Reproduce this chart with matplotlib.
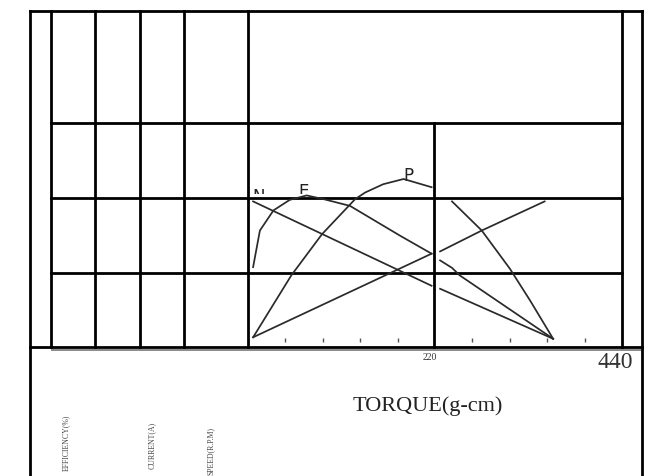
import matplotlib
matplotlib.use("Agg")
import matplotlib.pyplot as plt
from matplotlib.patches import Rectangle

# torque scale (g-cm) and tick positions on the bottom of the chart
torque_max = 440
tick_torque = [44, 88, 132, 176, 264, 308, 352, 396]
tick_labels = {220: "220", 440: "440"}

# curve values (y in chart rows, one row = one grid cell)
speed_t = [6, 216]
speed_v = [1.95, 0.82]

current_t = [6, 216]
current_v = [0.13, 1.25]

eff_t = [6, 14, 30, 49, 69, 89, 120, 179, 216]
eff_v = [1.07, 1.56, 1.83, 1.97, 2.03, 1.98, 1.89, 1.49, 1.25]

power_t = [6, 51, 87, 126, 138, 159, 183, 216]
power_v = [0.13, 0.96, 1.51, 1.98, 2.07, 2.18, 2.25, 2.14]

r1_t = [226, 275, 349]
r1_v = [1.28, 1.56, 1.95]

r2_t = [240, 275, 308, 332, 359]
r2_v = [1.95, 1.56, 1.05, 0.62, 0.11]

r3_t = [226, 240, 249, 359]
r3_v = [1.16, 1.06, 0.96, 0.11]

r4_t = [226, 359]
r4_v = [0.78, 0.11]

W, H = 654, 477
fig = plt.figure(figsize=(W / 100, H / 100), dpi=100)
fig.patch.set_facecolor("white")

# frame drawn in pixel units
fr = fig.add_axes([0, 0, 1, 1])
fr.set_xlim(0, W)
fr.set_ylim(H, 0)
fr.axis("off")

lw = 2.0
k = dict(color="black", lw=lw, solid_capstyle="projecting")
# outer box
fr.plot([30, 30], [12, 477], **k)
fr.plot([642, 642], [12, 477], **k)
fr.plot([30, 642], [12, 12], **k)
fr.plot([30, 642], [348, 348], **k)
fr.plot([52, 640], [350.5, 350.5], color="#8a8a8a", lw=1.4)
# columns
for x in [51, 95, 140, 184, 248]:
    fr.plot([x, x], [12, 348], **k)
fr.plot([622, 622], [12, 348], **k)
fr.plot([434, 434], [124, 348], **k)
for y in [124, 199, 274]:
    fr.plot([51, 622], [y, y], **k)

# chart axes for the curves
ax = fig.add_axes([248 / W, (H - 348) / H, (622 - 248) / W, (348 - 124) / H])
ax.set_xlim(0, torque_max)
ax.set_ylim(0, 3)
ax.axis("off")
ax.patch.set_alpha(0)

ck = dict(color="#2a2a2a", lw=1.25)
for t, v in [(speed_t, speed_v), (current_t, current_v), (eff_t, eff_v),
             (power_t, power_v), (r1_t, r1_v), (r2_t, r2_v), (r3_t, r3_v), (r4_t, r4_v)]:
    ax.plot(t, v, **ck)

ax.plot(tick_torque, [0.09] * len(tick_torque), ls="none", marker="|",
        ms=2.5, mew=1.0, color="#555555")

ax.annotate(tick_labels[220], (220, 0), xycoords=("data", "axes fraction"),
            xytext=(1.5, -7), textcoords="offset points", ha="right", va="center",
            fontsize=7, family="Liberation Serif", color="#333333")
ax.annotate(tick_labels[440], (440, 0), xycoords=("data", "axes fraction"),
            xytext=(8, -10.5), textcoords="offset points", ha="right", va="center",
            fontsize=17, family="Liberation Serif", color="#333333")

# curve letters (N and E partly hidden under the grid line, as in the drawing)
fr.text(408, 181, "P", ha="center", va="baseline", fontsize=12, color="#222222")
for x, yb, s in [(259, 202, "N"), (304, 197, "E")]:
    t = fr.text(x, yb, s, ha="center", va="baseline", fontsize=12, color="#222222",
                clip_on=True)
    t.set_clip_path(Rectangle((240, 150), 200, 44.5, transform=fr.transData))

fr.text(428, 406, "TORQUE(g-cm)", ha="center", va="center", fontsize=16,
        family="Liberation Serif", color="#222222")

for x, y, s in [(66, 415, "EFFICIENCY(%)"), (152, 422, "CURRENT(A)"), (211, 427, "SPEED(R.P.M)")]:
    fr.text(x, y, s, rotation=90, ha="center", va="top", fontsize=5.6,
            family="Liberation Serif", color="#444444")

fig.savefig("out.png", dpi=100)
